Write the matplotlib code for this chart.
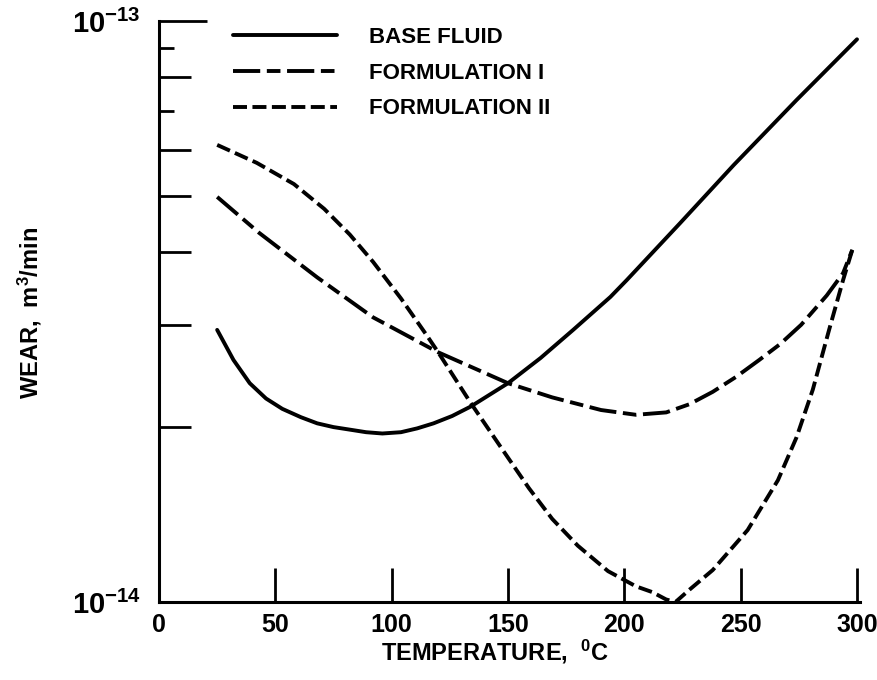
import matplotlib
matplotlib.use('Agg')
import matplotlib.pyplot as plt
import numpy as np
from matplotlib.ticker import NullFormatter

# values (wear in units of 1e-14 m^3/min)
temp_base = [25, 32, 39, 46, 53, 61, 68, 75, 82, 89, 96, 104, 111, 118, 126, 134, 150,
             164, 178, 194, 201, 224, 247, 274, 300]
wear_base = [2.94, 2.61, 2.38, 2.24, 2.15, 2.08, 2.03, 2.00, 1.98, 1.96, 1.95, 1.96, 1.99,
             2.03, 2.09, 2.17, 2.38, 2.63, 2.94, 3.35, 3.58, 4.49, 5.65, 7.31, 9.3]

temp_f1 = [25, 43, 68, 92, 120, 150, 169, 190, 205, 218, 228, 238, 248, 258, 267, 276,
           287, 294, 298]
wear_f1 = [4.98, 4.32, 3.62, 3.09, 2.69, 2.38, 2.25, 2.14, 2.10, 2.12, 2.19, 2.30, 2.44,
           2.61, 2.78, 3.00, 3.37, 3.68, 4.04]

temp_f2 = [25, 42, 58, 71, 82, 92, 104, 115, 120, 134, 148, 159, 169, 180, 193, 205, 212,
           218, 222, 228, 238, 253, 266, 274, 281, 288, 294, 298]
wear_f2 = [6.12, 5.70, 5.24, 4.75, 4.29, 3.85, 3.33, 2.88, 2.69, 2.20, 1.82, 1.57, 1.39,
           1.25, 1.13, 1.064, 1.04, 1.01, 1.0, 1.05, 1.135, 1.33, 1.62, 1.92, 2.32, 2.94,
           3.58, 4.04]

labels = ['BASE FLUID', 'FORMULATION I', 'FORMULATION II']
x_ticks = [0, 50, 100, 150, 200, 250, 300]
y_minor = [2, 3, 4, 5, 6, 7, 8, 9]
y_short = [7, 9]

plt.rcParams['mathtext.fontset'] = 'custom'
plt.rcParams['mathtext.rm'] = 'Liberation Sans:bold'
plt.rcParams['mathtext.bf'] = 'Liberation Sans:bold'
plt.rcParams['mathtext.it'] = 'Liberation Sans:bold'
plt.rcParams['font.family'] = ['Liberation Sans', 'DejaVu Sans']
plt.rcParams['font.weight'] = 'bold'
plt.rcParams['axes.labelweight'] = 'bold'

fig = plt.figure(figsize=(8.78, 6.8), dpi=100)
ax = fig.add_axes([159 / 878, 1 - 602 / 680, 701 / 878, 581 / 680])

lw = 2.8
ax.plot(temp_base, np.array(wear_base) * 1e-14, color='black', lw=lw,
        solid_capstyle='round', solid_joinstyle='round', label=labels[0])
ax.plot(temp_f1, np.array(wear_f1) * 1e-14, color='black', lw=lw,
        dashes=(7, 1.7, 3.5, 1.7), dash_joinstyle='round', label=labels[1])
ax.plot(temp_f2, np.array(wear_f2) * 1e-14, color='black', lw=lw,
        dashes=(3.6, 1.4), dash_joinstyle='round', label=labels[2])

ax.set_yscale('log')
ax.set_xlim(0, 300 * 701 / 698)
ax.set_ylim(1e-14, 1e-13)

for s in ['top', 'right']:
    ax.spines[s].set_visible(False)
for s in ['left', 'bottom']:
    ax.spines[s].set_linewidth(2.2)

ax.set_xticks(x_ticks)
ax.set_xticklabels([str(t) for t in x_ticks], fontsize=18)
ax.tick_params(axis='x', direction='in', length=24.5, width=2, pad=8)

ax.set_yticks([1e-14, 1e-13])
ax.set_yticklabels(['$10^{-14}$', '$10^{-13}$'], fontsize=21)
ax.set_yticks([v * 1e-14 for v in y_minor], minor=True)
ax.yaxis.set_minor_formatter(NullFormatter())
ax.tick_params(axis='y', which='major', direction='in', length=34.5, width=2, pad=13)
ax.tick_params(axis='y', which='minor', direction='in', length=23, width=2)
for v, tick in zip(y_minor, ax.yaxis.get_minor_ticks()):
    if v in y_short:
        tick.tick1line.set_markersize(11)

ax.set_xlabel('TEMPERATURE,  $^{0}$C', fontsize=17)
ax.xaxis.set_label_coords((495 - 159) / 701, -0.062)
ax.set_ylabel('WEAR,  m$^{3}$/min', fontsize=17)
ax.yaxis.set_label_coords((44 - 159) / 701, 0.497)

ax.legend(loc='upper left', bbox_to_anchor=(233 / 878, 1 - 27 / 680),
          bbox_transform=fig.transFigure, frameon=False, borderpad=0, borderaxespad=0,
          handlelength=4.7, handletextpad=1.4, labelspacing=0.66,
          prop={'weight': 'bold', 'size': 16})

plt.savefig('out.png', dpi=100)
plt.close()
